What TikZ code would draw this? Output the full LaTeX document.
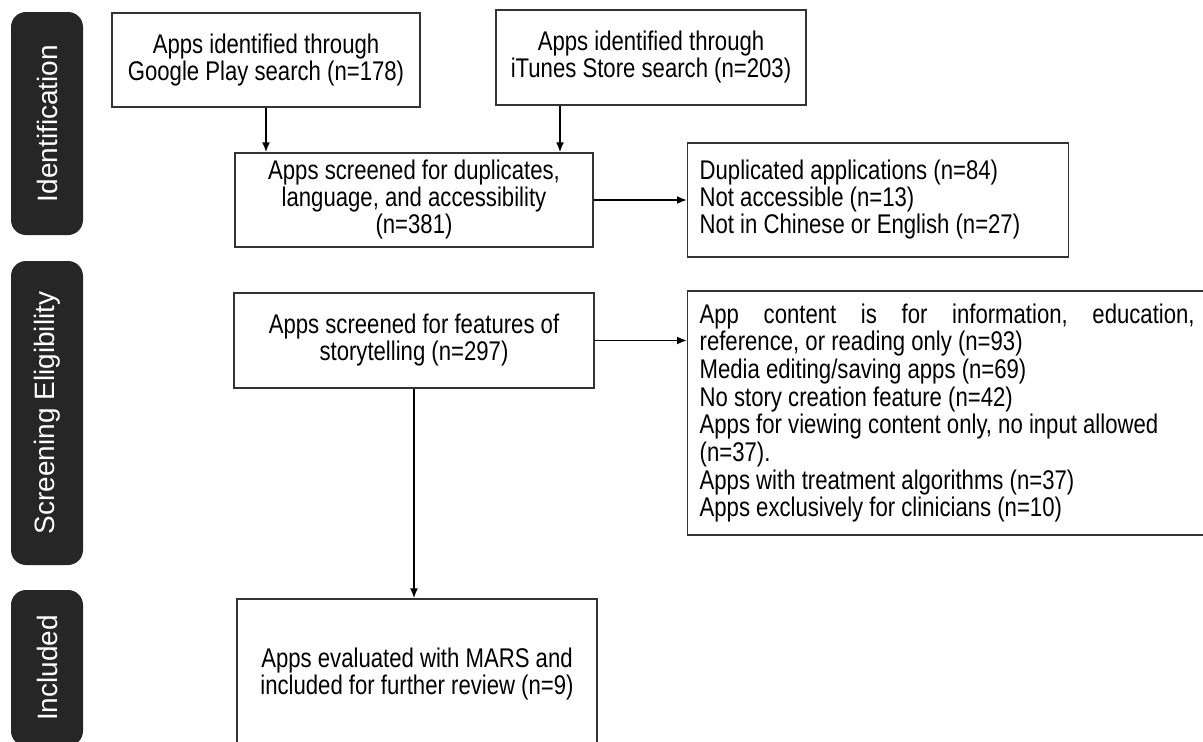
\documentclass[tikz,border=0pt]{standalone}
\usepackage{fontspec}
\setmainfont{Liberation Sans}
\newfontfamily\boxfont{Liberation Sans}[FakeStretch=0.82, WordSpace=1]
\usetikzlibrary{arrows.meta}
\newcommand\wgap{\hskip 0pt plus 1filll\relax}
\tikzset{
    box/.style={draw=black!80, line width=1.3pt, fill=white, inner sep=0pt, align=center,
        font=\boxfont\fontsize{27}{27}\selectfont},
    listbox/.style={box, anchor=west, align=flush left, inner xsep=12pt},
    stage/.style={fill=black!85, rounded corners=15pt, text=white, rotate=90, inner sep=0pt,
        minimum height=72pt, font=\fontsize{28}{34}\selectfont},
}
\begin{document}
\begin{tikzpicture}[x=1pt, y=-1pt, >={Latex[length=10pt,width=8pt]}]
\useasboundingbox (0,0) rectangle (1203,742);

\node[stage, minimum width=223pt] (idlab) at (47,123.5) {Identification};
\node[stage, minimum width=304pt] (sclab) at (47,413) {Screening Eligibility};
\node[stage, minimum width=156pt] (inlab) at (47,668) {Included};

\node[box, minimum width=308pt, minimum height=94pt] (gp) at (266,60)
    {Apps identified through\\Google Play search (n=178)};
\node[box, minimum width=310pt, minimum height=95pt] (itunes) at (651,57.5)
    {Apps identified through\\iTunes Store search (n=203)};
\node[box, minimum width=358pt, minimum height=94pt] (dup) at (414,200)
    {Apps screened for duplicates,\\language, and accessibility\\(n=381)};
\node[listbox, text width=357pt, minimum height=114pt] (dupx) at (687,200)
    {Duplicated applications (n=84)\\Not accessible (n=13)\\Not in Chinese or English (n=27)};
\node[box, minimum width=360pt, minimum height=95pt] (story) at (414,340.5)
    {Apps screened for features of\\storytelling (n=297)};
\node[listbox, text width=495pt, minimum height=244pt,
      font=\boxfont\fontsize{27}{27.7}\selectfont] (storyx) at (687,413)
    {App\wgap content\wgap is\wgap for\wgap information,\wgap education,\\
     reference, or reading only (n=93)\\
     Media editing/saving apps (n=69)\\
     No story creation feature (n=42)\\
     Apps for viewing content only, no input allowed\\
     (n=37).\\
     Apps with treatment algorithms (n=37)\\
     Apps exclusively for clinicians (n=10)};
\node[box, minimum width=360pt, minimum height=151pt] (incl) at (417,674.5)
    {Apps evaluated with MARS and\\included for further review (n=9)};

\draw[->, line width=1.8pt] (gp.south) -- (gp.south |- dup.north);
\draw[->, line width=1.8pt] ([xshift=-91pt]itunes.south) -- ([xshift=-91pt]itunes.south |- dup.north);
\draw[->, line width=1.8pt] (dup) -- (dupx);
\draw[->, line width=1.8pt] (story.east) -- (story.east -| storyx.west);
\draw[->, line width=1.8pt] (story.south) -- (story.south |- incl.north);

\end{tikzpicture}
\end{document}
